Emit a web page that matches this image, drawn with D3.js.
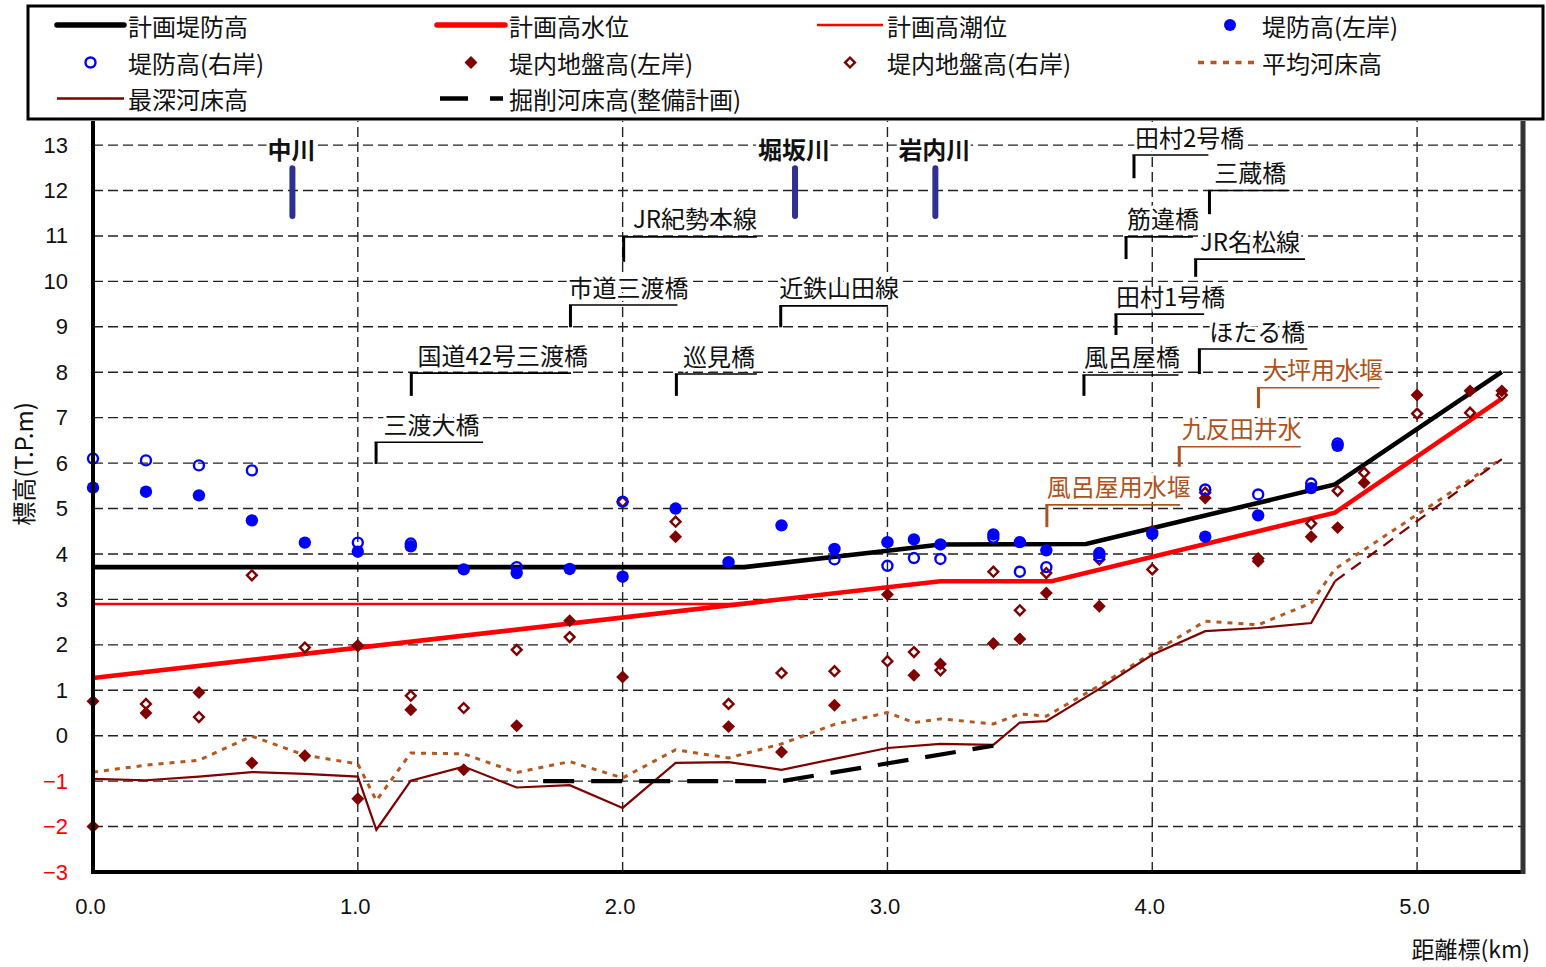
<!DOCTYPE html>
<html><head><meta charset="utf-8">
<script src="https://cdn.jsdelivr.net/npm/d3@7"></script>
<style>
body{margin:0;background:#fff;}
svg{display:block;}
</style></head><body>
<svg id="chart" width="1546" height="967"></svg>
<script>
// ===== DATA =====
const xTicks = [0, 1, 2, 3, 4, 5];
const yTicks = [-3,-2,-1,0,1,2,3,4,5,6,7,8,9,10,11,12,13];

// 計画堤防高 [km, T.P.m]
const planLevee = [[0,3.71],[2.46,3.71],[3.0,4.07],[3.2,4.21],[3.75,4.22],[4.69,5.53],[5.32,8.01]];
// 計画高水位
const planHWL = [[0,1.27],[3.2,3.40],[3.62,3.40],[4.69,4.91],[5.32,7.42]];
// 計画高潮位
const planTide = [[0,2.9],[2.43,2.9]];
// 堤防高(左岸)
const leveeLeft = [[0,5.46],[0.2,5.37],[0.4,5.29],[0.6,4.74],[0.8,4.25],[1.0,4.05],[1.2,4.17],[1.4,3.66],[1.6,3.58],[1.8,3.67],[2.0,3.50],[2.2,5.0],[2.4,3.82],[2.6,4.63],[2.8,4.11],[3.0,4.26],[3.1,4.32],[3.2,4.21],[3.4,4.43],[3.5,4.26],[3.6,4.08],[3.8,4.02],[4.0,4.44],[4.2,4.38],[4.4,4.85],[4.6,5.45],[4.7,6.38]];
// 堤防高(右岸)
const leveeRight = [[0,6.10],[0.2,6.06],[0.4,5.95],[0.6,5.84],[1.0,4.25],[1.2,4.23],[1.6,3.71],[2.0,5.15],[2.8,3.88],[3.0,3.74],[3.1,3.91],[3.2,3.89],[3.4,4.36],[3.5,3.61],[3.6,3.71],[3.8,3.95],[4.2,5.42],[4.4,5.31],[4.6,5.55],[4.7,6.43]];
// 堤内地盤高(左岸)
const groundLeft = [[0,0.76],[0,-2.0],[0.2,0.50],[0.4,0.95],[0.6,-0.60],[0.8,-0.44],[1.0,1.98],[1.0,-1.39],[1.2,0.57],[1.4,-0.75],[1.6,0.22],[1.8,2.53],[2.0,1.29],[2.2,4.38],[2.4,0.20],[2.6,-0.36],[2.8,0.67],[3.0,3.11],[3.1,1.33],[3.2,1.58],[3.4,2.03],[3.5,2.13],[3.6,3.14],[3.8,2.85],[4.0,4.50],[4.2,5.23],[4.4,3.84],[4.6,4.38],[4.7,4.58],[4.8,5.57],[5.0,7.50],[5.2,7.59],[5.32,7.59]];
// 堤内地盤高(右岸)
const groundRight = [[0.2,0.70],[0.4,0.41],[0.6,3.53],[0.8,1.94],[1.0,1.98],[1.2,0.88],[1.4,0.61],[1.6,1.89],[1.8,2.17],[2.0,5.15],[2.2,4.71],[2.4,0.70],[2.6,1.38],[2.8,1.42],[3.0,1.64],[3.1,1.84],[3.2,1.44],[3.4,3.61],[3.5,2.76],[3.6,3.58],[3.8,3.88],[4.0,3.66],[4.2,5.35],[4.4,3.90],[4.6,4.67],[4.7,5.39],[4.8,5.79],[5.0,7.09],[5.2,7.11],[5.32,7.50]];
// 平均河床高
const avgBed = [[0,-0.80],[0.2,-0.65],[0.4,-0.54],[0.6,-0.01],[0.8,-0.43],[1.0,-0.62],[1.07,-1.43],[1.2,-0.38],[1.4,-0.40],[1.6,-0.81],[1.8,-0.57],[2.0,-0.93],[2.2,-0.31],[2.4,-0.49],[2.6,-0.18],[2.8,0.25],[3.0,0.51],[3.1,0.29],[3.2,0.37],[3.4,0.26],[3.5,0.48],[3.6,0.43],[3.8,1.10],[4.0,1.82],[4.2,2.52],[4.4,2.44],[4.6,2.92],[4.69,3.67],[5.32,6.10]];
// 最深河床高 (surveyed part, then projected part)
const minBed = [[0,-0.95],[0.2,-0.98],[0.4,-0.90],[0.6,-0.80],[0.8,-0.84],[1.0,-0.90],[1.07,-2.07],[1.2,-0.99],[1.4,-0.68],[1.6,-1.14],[1.8,-1.09],[2.0,-1.59],[2.2,-0.60],[2.4,-0.58],[2.6,-0.75],[2.8,-0.51],[3.0,-0.27],[3.2,-0.18],[3.4,-0.20],[3.5,0.29],[3.6,0.32],[3.8,1.03],[4.0,1.78],[4.2,2.30],[4.4,2.37],[4.6,2.48],[4.69,3.40]];
const minBedUpper = [[4.69,3.40],[5.32,6.09]];
// 掘削河床高(整備計画)
const excavBed = [[1.7,-1.0],[2.6,-1.0],[3.4,-0.22]];

// 支川 (tributaries)
const tribNames = ["中川","堀坂川","岩内川"];
const tribKm = [0.753, 2.651, 3.181];
const tribRange = [11.44, 12.49];
const tribLabelLevel = 12.93;

// 横断構造物 annotations: [text, tick km, tick bottom, line level, line end km, text start km, kind]
const annotations = [
  ["三渡大橋",       1.069, 5.98, 6.46, 1.473, 1.097, "bridge"],
  ["国道42号三渡橋", 1.202, 7.48, 7.98, 1.805, 1.225, "bridge"],
  ["市道三渡橋",     1.803, 8.99, 9.48, 2.207, 1.796, "bridge"],
  ["JR紀勢本線",     2.004, 10.43, 10.98, 2.507, 2.039, "bridge"],
  ["巡見橋",         2.203, 7.48, 7.96, 2.507, 2.228, "bridge"],
  ["近鉄山田線",     2.597, 8.99, 9.46, 3.002, 2.591, "bridge"],
  ["田村2号橋",      3.931, 12.27, 12.78, 4.212, 3.935, "bridge"],
  ["三蔵橋",         4.216, 11.48, 12.00, 4.518, 4.234, "bridge"],
  ["筋違橋",         3.901, 10.49, 10.98, 4.154, 3.905, "bridge"],
  ["JR名松線",       4.164, 10.10, 10.49, 4.577, 4.180, "bridge"],
  ["田村1号橋",      3.863, 8.82, 9.28, 4.196, 3.863, "bridge"],
  ["ほたる橋",       4.178, 7.96, 8.51, 4.586, 4.215, "bridge"],
  ["風呂屋橋",       3.742, 7.48, 7.94, 4.099, 3.742, "bridge"],
  ["大坪用水堰",     4.401, 7.21, 7.66, 4.858, 4.418, "weir"],
  ["九反田井水",     4.102, 5.92, 6.36, 4.561, 4.111, "weir"],
  ["風呂屋用水堰",   3.602, 4.59, 5.08, 4.105, 3.602, "weir"]
];

const legendLabels = ["計画堤防高","計画高水位","計画高潮位","堤防高(左岸)",
  "堤防高(右岸)","堤内地盤高(左岸)","堤内地盤高(右岸)","平均河床高",
  "最深河床高","掘削河床高(整備計画)"];

const xTitle = "距離標(km)";
const yTitle = "標高(T.P.m)";

// ===== STYLE / LAYOUT =====
const JP = "'Noto Sans CJK JP','Noto Sans',sans-serif";
const NUM = "'Liberation Sans',Arial,sans-serif";
const C = {
  levee:"#000", hwl:"#ff0000", tide:"#ff0000", blue:"#0000ff",
  ground:"#800000", avg:"#b5571f", minBed:"#800000", excav:"#000",
  trib:"#2e3192", weir:"#b0521c", grid:"#222"
};
const PL = 93, PR = 1523, PT = 121, PB = 872;

const svg = d3.select("#chart");
const x = d3.scaleLinear().domain([0, 5.40]).range([PL, PR]);
const y = d3.scaleLinear().domain([-3, 13.53]).range([PB, PT]);

// grid
const g = svg.append("g");
g.selectAll("line.hg").data(yTicks.filter(v => v > -3)).join("line")
  .attr("x1", x(0)).attr("x2", x(5.40))
  .attr("y1", d => y(d)).attr("y2", d => y(d))
  .attr("stroke", C.grid).attr("stroke-width", 1.4).attr("stroke-dasharray", "10,5");
g.selectAll("line.vg").data(xTicks.filter(v => v > 0)).join("line")
  .attr("x1", d => x(d)).attr("x2", d => x(d))
  .attr("y1", y(-3)).attr("y2", y(13.53))
  .attr("stroke", C.grid).attr("stroke-width", 1.4).attr("stroke-dasharray", "10,5");

// axes
const xAxis = svg.append("g").attr("transform", `translate(0,${PB})`)
  .call(d3.axisBottom(x).tickValues(xTicks).tickFormat(d3.format(".1f")).tickSize(0).tickPadding(26));
xAxis.select(".domain").remove();
xAxis.selectAll("text").attr("font-family", NUM).attr("font-size", 22).attr("fill", "#111").attr("dx", -3);

const yAxis = svg.append("g").attr("transform", `translate(${PL},0)`)
  .call(d3.axisLeft(y).tickValues(yTicks).tickFormat(d3.format("d")).tickSize(0).tickPadding(25));
yAxis.select(".domain").remove();
yAxis.selectAll("text").attr("font-family", NUM).attr("font-size", 22)
  .attr("fill", d => d < 0 ? "#ff0000" : "#111");

const line = d3.line().x(d => x(d[0])).y(d => y(d[1]));

// series lines
const L = svg.append("g").attr("fill", "none");
L.append("path").attr("d", line(avgBed)).attr("stroke", C.avg).attr("stroke-width", 3).attr("stroke-dasharray", "5,6");
L.append("path").attr("d", line(minBed)).attr("stroke", C.minBed).attr("stroke-width", 2.2);
L.append("path").attr("d", line(minBedUpper)).attr("stroke", C.minBed).attr("stroke-width", 2.2).attr("stroke-dasharray", "12,8");
L.append("path").attr("d", line(excavBed)).attr("stroke", C.excav).attr("stroke-width", 4.2).attr("stroke-dasharray", "31,17");
L.append("path").attr("d", line(planTide)).attr("stroke", C.tide).attr("stroke-width", 2.5);
L.append("path").attr("d", line(planHWL)).attr("stroke", C.hwl).attr("stroke-width", 4.5);
L.append("path").attr("d", line(planLevee)).attr("stroke", C.levee).attr("stroke-width", 4.6);

// markers
const diamondFill = d3.symbol().type(d3.symbolSquare).size(84)();
const diamondOpen = d3.symbol().type(d3.symbolSquare).size(48)();
const M = svg.append("g");
M.selectAll("path.gr").data(groundRight).join("path")
  .attr("d", diamondOpen).attr("transform", d => `translate(${x(d[0])},${y(d[1])}) rotate(45)`)
  .attr("fill", "#fff").attr("stroke", C.ground).attr("stroke-width", 2.4);
M.selectAll("path.gl").data(groundLeft).join("path")
  .attr("d", diamondFill).attr("transform", d => `translate(${x(d[0])},${y(d[1])}) rotate(45)`)
  .attr("fill", C.ground);
M.selectAll("circle.lr").data(leveeRight).join("circle")
  .attr("cx", d => x(d[0])).attr("cy", d => y(d[1])).attr("r", 5)
  .attr("fill", "none").attr("stroke", C.blue).attr("stroke-width", 2.4);
M.selectAll("circle.ll").data(leveeLeft).join("circle")
  .attr("cx", d => x(d[0])).attr("cy", d => y(d[1])).attr("r", 6.2)
  .attr("fill", C.blue);

// tributaries
const T = svg.append("g");
T.selectAll("line").data(tribKm).join("line")
  .attr("x1", d => x(d)).attr("x2", d => x(d))
  .attr("y1", y(tribRange[1])).attr("y2", y(tribRange[0]))
  .attr("stroke", C.trib).attr("stroke-width", 6).attr("stroke-linecap", "round");
T.selectAll("text").data(tribNames).join("text")
  .attr("x", (d, i) => x(tribKm[i]) - 1).attr("y", y(tribLabelLevel))
  .attr("text-anchor", "middle").attr("dominant-baseline", "central")
  .attr("font-family", JP).attr("font-size", 24).attr("font-weight", "bold").attr("fill", "#111")
  .attr("stroke", "#fff").attr("stroke-width", 6).attr("paint-order", "stroke")
  .text(d => d);

// annotations
const A = svg.append("g");
annotations.forEach(a => {
  const [txt, km, bot, lev, endKm, tKm, kind] = a;
  const col = kind === "weir" ? C.weir : "#000";
  A.append("line").attr("x1", x(km)).attr("x2", x(km)).attr("y1", y(bot)).attr("y2", y(lev))
    .attr("stroke", col).attr("stroke-width", 3);
  A.append("line").attr("x1", x(km) - 1.5).attr("x2", x(endKm)).attr("y1", y(lev)).attr("y2", y(lev))
    .attr("stroke", col).attr("stroke-width", 1.6);
  A.append("text").attr("x", x(tKm)).attr("y", y(lev) - 19)
    .attr("dominant-baseline", "central")
    .attr("font-family", JP).attr("font-size", 24).attr("fill", kind === "weir" ? C.weir : "#111")
    .attr("stroke", "#fff").attr("stroke-width", 6).attr("paint-order", "stroke")
    .text(txt);
});

// frame
svg.append("line").attr("x1", PL).attr("x2", PL).attr("y1", PT).attr("y2", PB + 2).attr("stroke", "#000").attr("stroke-width", 4);
svg.append("line").attr("x1", PL - 2).attr("x2", PR + 2).attr("y1", PB).attr("y2", PB).attr("stroke", "#000").attr("stroke-width", 4);
svg.append("line").attr("x1", PR).attr("x2", PR).attr("y1", PT).attr("y2", PB + 2).attr("stroke", "#333").attr("stroke-width", 5);

// axis titles
svg.append("text").attr("x", 1530).attr("y", 948).attr("text-anchor", "end").attr("dominant-baseline", "central")
  .attr("font-family", JP).attr("font-size", 23).attr("fill", "#111").text(xTitle);
svg.append("text").attr("transform", "translate(22,464) rotate(-90)").attr("text-anchor", "middle")
  .attr("dominant-baseline", "central").attr("font-family", JP).attr("font-size", 24).attr("fill", "#111").text(yTitle);

// legend
const Lg = svg.append("g");
Lg.append("rect").attr("x", 28).attr("y", 6).attr("width", 1515).attr("height", 113)
  .attr("fill", "#fff").attr("stroke", "#000").attr("stroke-width", 3);
const cols = [[57,124],[437,505],[817,883],[1198,1258]];
const rows = [25, 62.5, 98.5];
const kinds = ["levee","hwl","tide","dotL","dotR","diaL","diaR","avg","minBed","excav"];
legendLabels.forEach((lab, i) => {
  const [x0, x1] = cols[i % 4];
  const ry = rows[Math.floor(i / 4)];
  const mx = (x0 + x1) / 2;
  const k = kinds[i];
  const seg = () => Lg.append("line").attr("x1", x0).attr("x2", x1).attr("y1", ry).attr("y2", ry);
  if (k === "levee") seg().attr("stroke", C.levee).attr("stroke-width", 5.5).attr("stroke-linecap", "round");
  if (k === "hwl") seg().attr("stroke", C.hwl).attr("stroke-width", 5.5).attr("stroke-linecap", "round");
  if (k === "tide") seg().attr("stroke", C.tide).attr("stroke-width", 2.6);
  if (k === "minBed") seg().attr("stroke", C.minBed).attr("stroke-width", 2.6);
  if (k === "avg") seg().attr("stroke", C.avg).attr("stroke-width", 3.4).attr("stroke-dasharray", "6,6.5");
  if (k === "excav") seg().attr("x1", 440).attr("x2", 503).attr("stroke", C.excav).attr("stroke-width", 4.5).attr("stroke-dasharray", "28,22");
  if (k === "dotL") Lg.append("circle").attr("cx", mx + 2).attr("cy", ry).attr("r", 6).attr("fill", C.blue);
  if (k === "dotR") Lg.append("circle").attr("cx", mx).attr("cy", ry).attr("r", 5).attr("fill", "none").attr("stroke", C.blue).attr("stroke-width", 2.4);
  if (k === "diaL") Lg.append("path").attr("d", diamondFill).attr("transform", `translate(${mx},${ry}) rotate(45)`).attr("fill", C.ground);
  if (k === "diaR") Lg.append("path").attr("d", diamondOpen).attr("transform", `translate(${mx},${ry}) rotate(45)`).attr("fill", "#fff").attr("stroke", C.ground).attr("stroke-width", 2.4);
  Lg.append("text").attr("x", x1 + 4).attr("y", ry).attr("dominant-baseline", "central")
    .attr("font-family", JP).attr("font-size", 24).attr("fill", "#111").text(lab);
});
</script></body></html>
